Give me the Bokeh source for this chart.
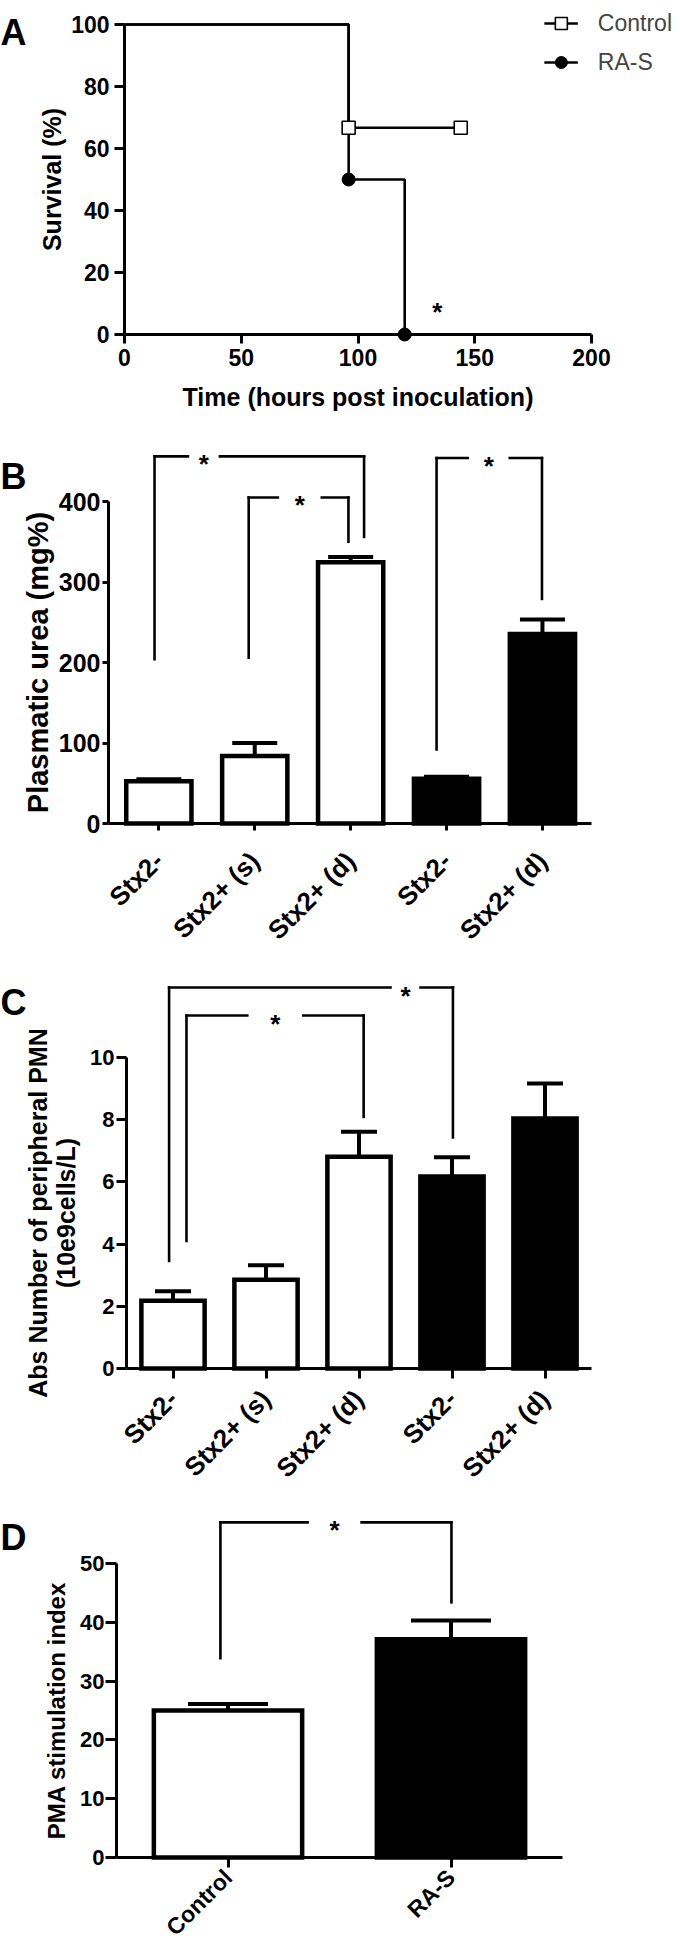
import math
from bokeh.plotting import figure
from bokeh.models import (Range1d, FixedTicker, Whisker, TeeHead, Label,
                          Legend, LegendItem, ColumnDataSource)
from bokeh.layouts import column
from bokeh.transform import factor_cmap
from bokeh.core.properties import value
from bokeh.embed import file_html
from bokeh.resources import INLINE

FONT = "Liberation Sans"
FIG_W = 680

# ---------------- Panel A: survival ----------------
surv_groups = ["Control", "RA-S"]
control_time = [0, 96, 144]
control_surv = [100, 66.7, 66.7]
control_mark_time = [96, 144]
control_mark_surv = [66.7, 66.7]
ras_time = [0, 96, 120]
ras_surv = [100, 50, 0]
ras_mark_time = [96, 120]
ras_mark_surv = [50, 0]
surv_x_ticks = [0, 50, 100, 150, 200]
surv_y_ticks = [0, 20, 40, 60, 80, 100]
surv_star_x = [134]
surv_star_y = [10]

# ---------------- Panel B: plasmatic urea ----------------
urea_labels = ["Stx2-", "Stx2+ (s)", "Stx2+ (d)", "Stx2-", "Stx2+ (d)"]
urea_group = ["Control", "Control", "Control", "RA-S", "RA-S"]
urea_mean = [52.5, 84, 324.5, 55.5, 235.5]
urea_sem = [2.5, 16, 6.5, 2.5, 18]
urea_y_ticks = [0, 100, 200, 300, 400]
urea_br_left = [0.955, 1.937, 3.896]
urea_br_right = [3.14, 2.977, 4.995]
urea_br_top = [456, 405, 454]
urea_br_left_end = [204, 206, 92]
urea_br_right_end = [356, 350, 279]
urea_br_star = [1.47, 2.47, 4.44]

# ---------------- Panel C: peripheral PMN ----------------
pmn_labels = ["Stx2-", "Stx2+ (s)", "Stx2+ (d)", "Stx2-", "Stx2+ (d)"]
pmn_group = ["Control", "Control", "Control", "RA-S", "RA-S"]
pmn_mean = [2.18, 2.85, 6.81, 6.17, 8.04]
pmn_sem = [0.30, 0.47, 0.80, 0.62, 1.12]
pmn_y_ticks = [0, 2, 4, 6, 8, 10]
pmn_br_left = [0.958, 1.145]
pmn_br_right = [4.01, 3.05]
pmn_br_top = [12.25, 11.35]
pmn_br_left_end = [3.46, 4.1]
pmn_br_right_end = [7.43, 8.09]
pmn_br_star = [3.5, 2.1]

# ---------------- Panel D: PMA stimulation ----------------
pma_labels = ["Control", "RA-S"]
pma_group = ["Control", "RA-S"]
pma_mean = [25.0, 37.1]
pma_sem = [1.1, 3.2]
pma_y_ticks = [0, 10, 20, 30, 40, 50]
pma_br_left = [0.966]
pma_br_right = [2.002]
pma_br_top = [57.0]
pma_br_left_end = [33.9]
pma_br_right_end = [43.4]
pma_br_star = [1.478]


def make_panel(height, x_ppu, x_anchor, x_anchor_px, y_ppu, y0_px):
    """Frame covers the whole figure; axes are pinned with fixed_location."""
    x_start = x_anchor - x_anchor_px / x_ppu
    y_start = -(height - y0_px) / y_ppu
    p = figure(width=FIG_W, height=height,
               x_range=Range1d(x_start, x_start + FIG_W / x_ppu),
               y_range=Range1d(y_start, y_start + height / y_ppu),
               output_backend="svg", toolbar_location=None,
               min_border=0)
    p.xgrid.visible = False
    p.ygrid.visible = False
    p.outline_line_color = None
    p.background_fill_color = "white"
    p.border_fill_color = "white"

    def to_data(fx, fy):
        return (x_start + fx / x_ppu, y_start + (height - fy) / y_ppu)
    return p, to_data


def style_axis(ax, loc, tick_px, tick_out, standoff, bounds, ticks):
    ax.fixed_location = loc
    ax.axis_line_color = "black"
    ax.axis_line_width = 3
    ax.major_tick_line_color = "black"
    ax.major_tick_line_width = 3
    ax.major_tick_out = tick_out
    ax.major_tick_in = 0
    ax.minor_tick_line_color = None
    ax.major_label_text_font = FONT
    ax.major_label_text_font_style = "bold"
    ax.major_label_text_font_size = f"{tick_px}px"
    ax.major_label_text_color = "black"
    ax.major_label_standoff = standoff
    ax.bounds = bounds
    ax.ticker = FixedTicker(ticks=ticks)


def add_label(p, x, y, text, size, bold=True, angle=0.0, align="center",
              baseline="middle"):
    p.add_layout(Label(x=x, y=y, text=text, text_font=FONT,
                       text_font_size=f"{size}px",
                       text_font_style="bold" if bold else "normal",
                       text_color="black", angle=angle,
                       text_align=align, text_baseline=baseline))


def draw_brackets(p, lefts, rights, tops, lends, rends, stars, gaps_px, x_ppu,
                  star_px=26, star_offset=8):
    x0, y0, x1, y1 = [], [], [], []
    for l, r, t, le, re_, s, g in zip(lefts, rights, tops, lends, rends,
                                      stars, gaps_px):
        gd = g / x_ppu
        x0 += [l, r, l, s + gd]
        y0 += [le, re_, t, t]
        x1 += [l, r, s - gd, r]
        y1 += [t, t, t, t]
    p.segment(x0, y0, x1, y1, line_color="black", line_width=2.6,
              line_cap="square")
    p.text(x=stars, y=tops, text=["*"] * len(stars), text_align="center",
           text_baseline="middle", y_offset=star_offset,
           text_font=value(FONT), text_font_size=f"{star_px}px",
           text_font_style="bold", text_color="black")


def bar_panel(height, x_ppu, x_axis_at, axis_px, y_ppu, y0_px, labels,
              groups, means, sems, y_ticks, axis_end, bar_w, cap_px,
              ytick_px, ytick_out, ytick_standoff, xtick_px, xtick_out,
              xtick_standoff, letter, letter_base_px, titles, title_px,
              br, gaps_px, lw=4.5):
    p, to_data = make_panel(height, x_ppu, x_axis_at, axis_px, y_ppu, y0_px)
    xs = list(range(1, len(labels) + 1))
    upper = [m + s for m, s in zip(means, sems)]
    src = ColumnDataSource(dict(x=xs, mean=means, upper=upper, group=groups))
    p.vbar(x="x", top="mean", width=bar_w, source=src,
           fill_color=factor_cmap("group", ["white", "black"],
                                  ["Control", "RA-S"]),
           line_color="black", line_width=lw, line_join="miter")
    p.add_layout(Whisker(source=src, base="x", lower="mean", upper="upper",
                         line_color="black", line_width=4, lower_head=None,
                         upper_head=TeeHead(size=cap_px, line_width=4,
                                            line_color="black")))
    draw_brackets(p, *br, gaps_px, x_ppu)

    style_axis(p.yaxis[0], x_axis_at, ytick_px, ytick_out, ytick_standoff,
               (0, y_ticks[-1]), y_ticks)
    style_axis(p.xaxis[0], 0, xtick_px, xtick_out, xtick_standoff,
               (x_axis_at, axis_end), xs)
    p.xaxis.major_label_overrides = {i: lab for i, lab in zip(xs, labels)}
    p.xaxis.major_label_orientation = math.pi / 4

    lx, ly = to_data(0, letter_base_px)
    add_label(p, lx, ly, letter, 36, align="left", baseline="alphabetic")
    mid = y_ticks[-1] / 2
    for text, fx in titles:
        tx, _ = to_data(fx, 0)
        add_label(p, tx, mid, text, title_px, angle=math.pi / 2)
    return p


# ======================= Panel A =======================
A_H = 430
A_XPPU, A_YPPU = 2.335, 3.1
pA, toA = make_panel(A_H, A_XPPU, 0, 124, A_YPPU, 334)

r_cl = pA.step(control_time, control_surv, mode="after", line_color="black",
               line_width=2.6)
r_rl = pA.step(ras_time, ras_surv, mode="after", line_color="black",
               line_width=2.6)
r_cm = pA.scatter(control_mark_time, control_mark_surv, marker="square",
                  size=13, fill_color="white", line_color="black",
                  line_width=1.6)
r_rm = pA.scatter(ras_mark_time, ras_mark_surv, marker="circle", size=13,
                  fill_color="black", line_color="black")
pA.text(x=surv_star_x, y=surv_star_y, text=["*"], text_align="center",
        text_baseline="middle", y_offset=8, text_font=value(FONT),
        text_font_size="26px", text_font_style="bold", text_color="black")

style_axis(pA.yaxis[0], 0, 23, 10, 5, (0, 100), surv_y_ticks)
style_axis(pA.xaxis[0], 0, 23, 9, 5, (0, 200), surv_x_ticks)

legend = Legend(items=[LegendItem(label=surv_groups[0], renderers=[r_cl, r_cm]),
                       LegendItem(label=surv_groups[1], renderers=[r_rl, r_rm])],
                location="top_right", margin=8, padding=0, spacing=9,
                glyph_width=34, glyph_height=30, label_standoff=20,
                label_text_font=FONT, label_text_font_size="23px",
                label_text_baseline="middle", border_line_color=None,
                background_fill_alpha=0)
pA.add_layout(legend)

lx, ly = toA(0, 32)
add_label(pA, lx, ly, "A", 36, align="left", baseline="alphabetic")
tx, _ = toA(51, 0)
add_label(pA, tx, 50, "Survival (%)", 25, angle=math.pi / 2)
_, ty = toA(0, 396)
add_label(pA, 100, ty, "Time (hours post inoculation)", 25)

# ======================= Panel B =======================
pB = bar_panel(525, 95.9, 0.475, 108, 0.805, 393, urea_labels, urea_group,
               urea_mean, urea_sem, urea_y_ticks, 5.51, 0.68, 45,
               25, 6, 2, 26, 7, 26, "B", 46,
               [("Plasmatic urea (mg%)", 37)], 29,
               (urea_br_left, urea_br_right, urea_br_top, urea_br_left_end,
                urea_br_right_end, urea_br_star), [16, 22, 21])

# ======================= Panel C =======================
pC = bar_panel(535, 93.0, 0.5, 126, 31.1, 413, pmn_labels, pmn_group,
               pmn_mean, pmn_sem, pmn_y_ticks, 5.5, 0.68, 36,
               22, 10, 2, 26, 10, 16, "C", 47,
               [("Abs Number of peripheral PMN", 37), ("(10e9cells/L)", 65)], 25,
               (pmn_br_left, pmn_br_right, pmn_br_top, pmn_br_left_end,
                pmn_br_right_end, pmn_br_star), [15, 28])

# ======================= Panel D =======================
pD = bar_panel(453, 223.0, 0.5, 116, 5.88, 367, pma_labels, pma_group,
               pma_mean, pma_sem, pma_y_ticks, 2.5, 0.665, 80,
               22, 11, 1, 23, 10, 6, "D", 47,
               [("PMA stimulation index", 56)], 24,
               (pma_br_left, pma_br_right, pma_br_top, pma_br_left_end,
                pma_br_right_end, pma_br_star), [27])

layout = column(pA, pB, pC, pD, spacing=0)
open("out.html", "w").write(file_html(layout, INLINE))
